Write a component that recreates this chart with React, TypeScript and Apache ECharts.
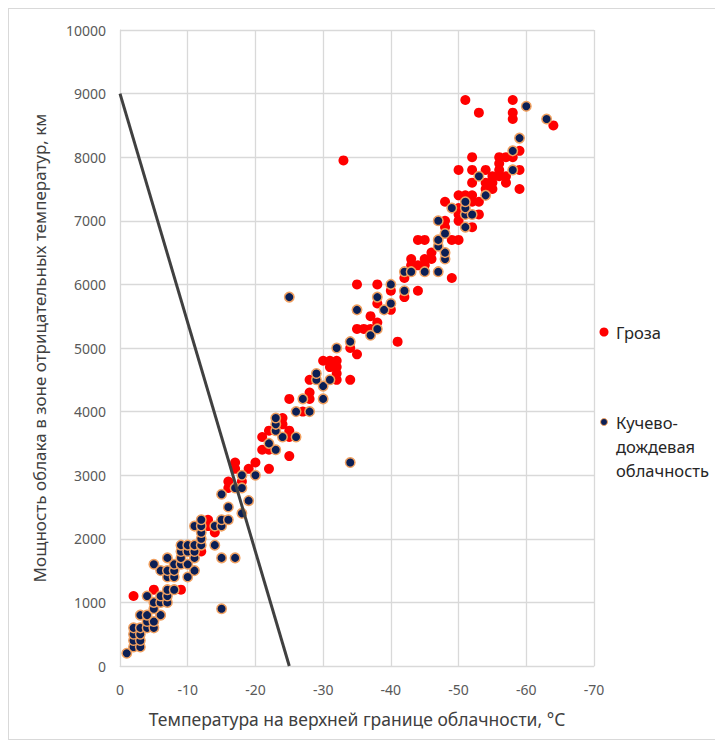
import React, { useEffect, useRef } from "react";
import * as echarts from "echarts";

// Гроза (thunderstorm) points: [temperature °C, thickness]
const grozaPoints: number[][] = [
  [-2, 1100], [-5, 1200], [-9, 1200], [-6, 800], [-12, 1800], [-14, 2100], [-13, 2300], [-13, 2200],
  [-16, 2800], [-16, 2900], [-18, 2900], [-17, 3200], [-17, 3100], [-19, 3100], [-20, 3200], [-22, 3100],
  [-21, 3400], [-22, 3400], [-21, 3600], [-25, 3300], [-25, 3600], [-25, 3700], [-22, 3700],
  [-24, 3800], [-24, 3900], [-27, 4000], [-25, 4200], [-28, 4200], [-28, 4300], [-28, 4500],
  [-32, 4600], [-32, 4500], [-34, 4500], [-31, 4700], [-32, 4700], [-30, 4800], [-31, 4800], [-32, 4800],
  [-34, 5000], [-35, 4900], [-41, 5100], [-35, 5300], [-36, 5300], [-37, 5300], [-38, 5400], [-37, 5500],
  [-40, 5600], [-38, 5700], [-38, 6000], [-35, 6000], [-40, 5900], [-42, 5800], [-44, 5900], [-42, 6100],
  [-43, 6300], [-44, 6300], [-45, 6300], [-43, 6400], [-45, 6400], [-46, 6400], [-46, 6500],
  [-44, 6700], [-45, 6700], [-49, 6700], [-50, 6700], [-49, 6100],
  [-48, 6900], [-48, 7000], [-50, 7000], [-52, 6900], [-50, 7100], [-53, 7100], [-48, 7300], [-50, 7200],
  [-52, 7300], [-53, 7300], [-50, 7400], [-51, 7400], [-52, 7400], [-54, 7500], [-55, 7500], [-59, 7500],
  [-52, 7600], [-54, 7600], [-55, 7600], [-57, 7600], [-55, 7700], [-56, 7700], [-57, 7700],
  [-50, 7800], [-52, 7800], [-54, 7800], [-56, 7800], [-56, 7900], [-59, 7800],
  [-52, 8000], [-56, 8000], [-57, 8000], [-58, 8000], [-59, 8100],
  [-64, 8500], [-58, 8600], [-58, 8700], [-53, 8700], [-51, 8900], [-58, 8900], [-33, 7950]
];

// Кучево-дождевая облачность (cumulonimbus) points
const cbPoints: number[][] = [
  [-1, 200], [-2, 300], [-3, 300], [-2, 400], [-3, 400], [-2, 500], [-3, 500], [-2, 600], [-3, 600],
  [-4, 600], [-5, 600], [-4, 700], [-5, 700], [-3, 800], [-4, 800], [-6, 800], [-5, 900],
  [-5, 1000], [-6, 1000], [-7, 1000], [-4, 1100], [-6, 1100], [-7, 1100], [-7, 1200], [-8, 1200],
  [-15, 900], [-7, 1400], [-8, 1400], [-10, 1400], [-6, 1500], [-7, 1500], [-8, 1500], [-11, 1500],
  [-5, 1600], [-8, 1600], [-9, 1600], [-10, 1600], [-7, 1700], [-9, 1700], [-11, 1700], [-15, 1700], [-17, 1700],
  [-9, 1800], [-10, 1800], [-11, 1800], [-9, 1900], [-10, 1900], [-11, 1900], [-12, 1900], [-14, 1900],
  [-12, 2000], [-12, 2100], [-11, 2200], [-12, 2200], [-14, 2200], [-15, 2200], [-12, 2300],
  [-15, 2300], [-16, 2300], [-18, 2400], [-16, 2500], [-19, 2600], [-15, 2700], [-17, 2800], [-18, 2800],
  [-18, 3000], [-20, 3000], [-34, 3200], [-23, 3400], [-22, 3500], [-24, 3600], [-26, 3600],
  [-23, 3700], [-23, 3800], [-23, 3900], [-26, 4000], [-28, 4000], [-27, 4200], [-30, 4200],
  [-30, 4400], [-29, 4500], [-31, 4500], [-29, 4600], [-32, 5000], [-34, 5100], [-37, 5200], [-38, 5300],
  [-35, 5600], [-39, 5600], [-40, 5700], [-38, 5800], [-25, 5800], [-42, 5900], [-40, 6000],
  [-42, 6200], [-43, 6200], [-45, 6200], [-47, 6200], [-48, 6400], [-48, 6500], [-47, 6600], [-47, 6700],
  [-48, 6800], [-51, 6900], [-47, 7000], [-51, 7100], [-52, 7100], [-49, 7200], [-51, 7200], [-51, 7300],
  [-54, 7400], [-53, 7700], [-58, 7800], [-58, 8100], [-59, 8300], [-63, 8600], [-60, 8800]
];

// Boundary line
const boundaryLine: number[][] = [[0, 9000], [-25, 0]];

const xTicks = { min: -70, max: 0, interval: 10 };
const yTicks = { min: 0, max: 10000, interval: 1000 };

const seriesNames = ["Гроза", "Кучево-дождевая облачность"];

const FONT = "'Noto Sans', 'Open Sans', sans-serif";

export default function App() {
  const ref = useRef<HTMLDivElement>(null);
  useEffect(() => {
    if (!ref.current) return;
    const chart = echarts.init(ref.current, undefined, { renderer: "svg" });
    chart.setOption({
      animation: false,
      backgroundColor: "#ffffff",
      grid: { left: 111, right: 128, top: 21, bottom: 73, containLabel: false },
      xAxis: {
        type: "value",
        min: xTicks.min,
        max: xTicks.max,
        interval: xTicks.interval,
        inverse: true,
        name: "Температура на верхней границе облачности, °C",
        nameLocation: "middle",
        nameGap: 44,
        nameTextStyle: { fontFamily: FONT, fontSize: 17.5, color: "#404040" },
        axisLine: { show: true, lineStyle: { color: "#d9d9d9" } },
        axisTick: { show: false },
        axisLabel: { fontFamily: FONT, fontSize: 14, color: "#595959", margin: 16, formatter: (v: number) => String(v) },
        splitLine: { show: true, lineStyle: { color: "#d9d9d9", width: 1.3 } }
      },
      yAxis: {
        type: "value",
        min: yTicks.min,
        max: yTicks.max,
        interval: yTicks.interval,
        name: "Мощность облака в зоне отрицательных температур, км",
        nameLocation: "middle",
        nameGap: 72,
        nameTextStyle: { fontFamily: FONT, fontSize: 17, color: "#404040" },
        axisLine: { show: true, lineStyle: { color: "#d9d9d9" } },
        axisTick: { show: false },
        axisLabel: { fontFamily: FONT, fontSize: 14, color: "#595959", margin: 14, formatter: (v: number) => String(v) },
        splitLine: { show: true, lineStyle: { color: "#d9d9d9", width: 1.3 } }
      },
      series: [
        {
          name: seriesNames[0],
          type: "scatter",
          data: grozaPoints,
          symbol: "circle",
          symbolSize: 10,
          itemStyle: { color: "#ff0000", opacity: 1 },
          z: 2
        },
        {
          name: seriesNames[1],
          type: "scatter",
          data: cbPoints,
          symbol: "circle",
          symbolSize: 9.5,
          itemStyle: { color: "#0b1f55", borderColor: "#f0a060", borderWidth: 1.5, opacity: 1 },
          z: 3
        },
        {
          name: "line",
          type: "line",
          data: boundaryLine,
          showSymbol: false,
          symbol: "none",
          lineStyle: { color: "#404040", width: 3 },
          z: 4
        }
      ],
      graphic: [
        { type: "circle", shape: { cx: 595, cy: 323, r: 4.5 }, style: { fill: "#ff0000" } },
        {
          type: "text", x: 607, y: 323,
          style: { text: "Гроза", fontFamily: FONT, fontSize: 16.5, fill: "#262626", verticalAlign: "middle" }
        },
        { type: "circle", shape: { cx: 595, cy: 413, r: 3.5 }, style: { fill: "#0b1f55", stroke: "#f0a060", lineWidth: 1 } },
        {
          type: "text", x: 607, y: 401,
          style: {
            text: "Кучево-\nдождевая\nоблачность", fontFamily: FONT, fontSize: 16.5, lineHeight: 24,
            fill: "#262626", verticalAlign: "top"
          }
        }
      ]
    });
    return () => chart.dispose();
  }, []);
  return (
    <div
      ref={ref}
      style={{ width: 713, height: 730, border: "1px solid #d9d9d9", boxSizing: "content-box" }}
    />
  );
}
